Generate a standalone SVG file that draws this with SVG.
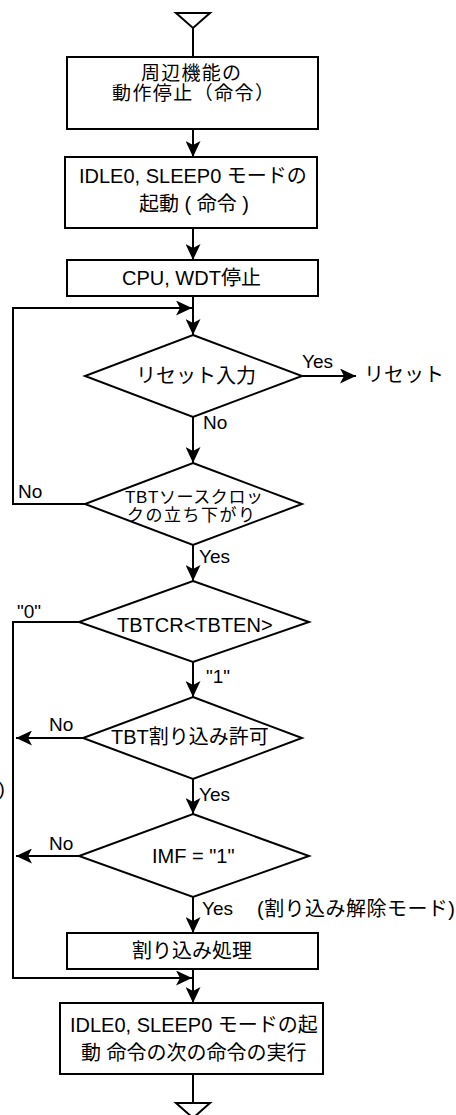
<svg xmlns="http://www.w3.org/2000/svg" width="456" height="1115" viewBox="0 0 456 1115">
<style>
.shape{fill:#fff;stroke:#000;stroke-width:2}
.ln{fill:none;stroke:#000;stroke-width:2}
.arr{fill:none;stroke:#000;stroke-width:2;marker-end:url(#ah)}
text{font-family:"Liberation Sans","Noto Sans CJK JP",Arial,sans-serif;fill:#000}
.t{font-size:20px}
.m{font-size:19px}
.s{font-size:17px}
.lb{font-size:19px}
</style>
<defs>
<marker id="ah" markerUnits="userSpaceOnUse" viewBox="0 0 16 15" refX="16" refY="7.5" markerWidth="16" markerHeight="15" orient="auto">
<path d="M0,0 L16,7.5 L0,15 L4,7.5 Z" fill="#000"/>
</marker>
</defs>
<rect width="456" height="1115" fill="#fff"/>
<g id="connectors">
<polygon class="ln" points="176,13 210,13 193,28"/>
<line class="ln" x1="193" y1="28" x2="193" y2="57"/>
<line class="arr" x1="193" y1="129" x2="193" y2="157"/>
<line class="arr" x1="193" y1="228" x2="193" y2="260"/>
<line class="arr" x1="193" y1="296" x2="193" y2="335"/>
<polyline class="arr" points="85,504 13,504 13,308 192,308"/>
<line class="arr" x1="302" y1="376" x2="356" y2="376"/>
<line class="arr" x1="193" y1="417" x2="193" y2="463"/>
<line class="arr" x1="193" y1="545" x2="193" y2="581"/>
<polyline class="arr" points="79,622 13,622 13,978 192,978"/>
<line class="arr" x1="193" y1="662" x2="193" y2="697"/>
<line class="arr" x1="83" y1="738" x2="16" y2="738"/>
<line class="arr" x1="193" y1="779" x2="193" y2="814"/>
<line class="arr" x1="79" y1="856" x2="16" y2="856"/>
<line class="arr" x1="193" y1="897" x2="193" y2="933"/>
<line class="arr" x1="193" y1="969" x2="193" y2="1003"/>
<line class="ln" x1="193" y1="1074" x2="193" y2="1103"/>
<polygon class="ln" points="176,1103 210,1103 193,1118"/>
<text class="lb" x="302" y="368">Yes</text>
<text class="t" x="364" y="382">リセット</text>
<text class="lb" x="203" y="429">No</text>
<text class="lb" x="18" y="498">No</text>
<text class="lb" x="199" y="563">Yes</text>
<text class="lb" x="17" y="618">"0"</text>
<text class="lb" x="206" y="683">"1"</text>
<text class="lb" x="49" y="731">No</text>
<text class="lb" x="-1.5" y="795">)</text>
<text class="lb" x="199" y="801">Yes</text>
<text class="lb" x="49" y="850">No</text>
<text class="lb" x="202" y="915">Yes</text>
<text class="t" x="257" y="916" textLength="198" lengthAdjust="spacing">(割り込み解除モード)</text>
</g>
<g id="n1">
<rect class="shape" x="67" y="57" width="251" height="72"/>
<text class="m" x="141" y="80" textLength="100" lengthAdjust="spacing">周辺機能の</text>
<text class="m" x="112" y="100" textLength="162" lengthAdjust="spacing">動作停止（命令）</text>
</g>
<g id="n2">
<rect class="shape" x="65" y="157" width="252" height="71"/>
<text class="t" x="79" y="183">IDLE0, SLEEP0 モードの</text>
<text class="t" x="139" y="211">起動 ( 命令 )</text>
</g>
<g id="n3">
<rect class="shape" x="67" y="260" width="251" height="36"/>
<text class="t" x="122" y="285">CPU, WDT停止</text>
</g>
<g id="d1">
<polygon class="shape" points="193,335 302,376 193,417 85,376"/>
<text class="t" x="136" y="383">リセット入力</text>
</g>
<g id="d2">
<polygon class="shape" points="193,463 302,504 193,545 85,504"/>
<text class="s" x="125" y="503" textLength="138" lengthAdjust="spacing">TBTソースクロッ</text>
<text class="s" x="127" y="521" textLength="128" lengthAdjust="spacing">クの立ち下がり</text>
</g>
<g id="d3">
<polygon class="shape" points="193,581 309,622 193,662 79,622"/>
<text class="t" x="117" y="632">TBTCR&lt;TBTEN&gt;</text>
</g>
<g id="d4">
<polygon class="shape" points="193,697 302,738 193,779 83,738"/>
<text class="t" x="111" y="744">TBT割り込み許可</text>
</g>
<g id="d5">
<polygon class="shape" points="193,814 309,856 193,897 79,856"/>
<text class="t" x="152" y="863">IMF = "1"</text>
</g>
<g id="n6">
<rect class="shape" x="67" y="933" width="251" height="36"/>
<text class="t" x="132" y="958">割り込み処理</text>
</g>
<g id="n7">
<rect class="shape" x="60" y="1003" width="263" height="71"/>
<text class="t" x="70" y="1032">IDLE0, SLEEP0 モードの起</text>
<text class="t" x="81" y="1060">動 命令の次の命令の実行</text>
</g>
</svg>
